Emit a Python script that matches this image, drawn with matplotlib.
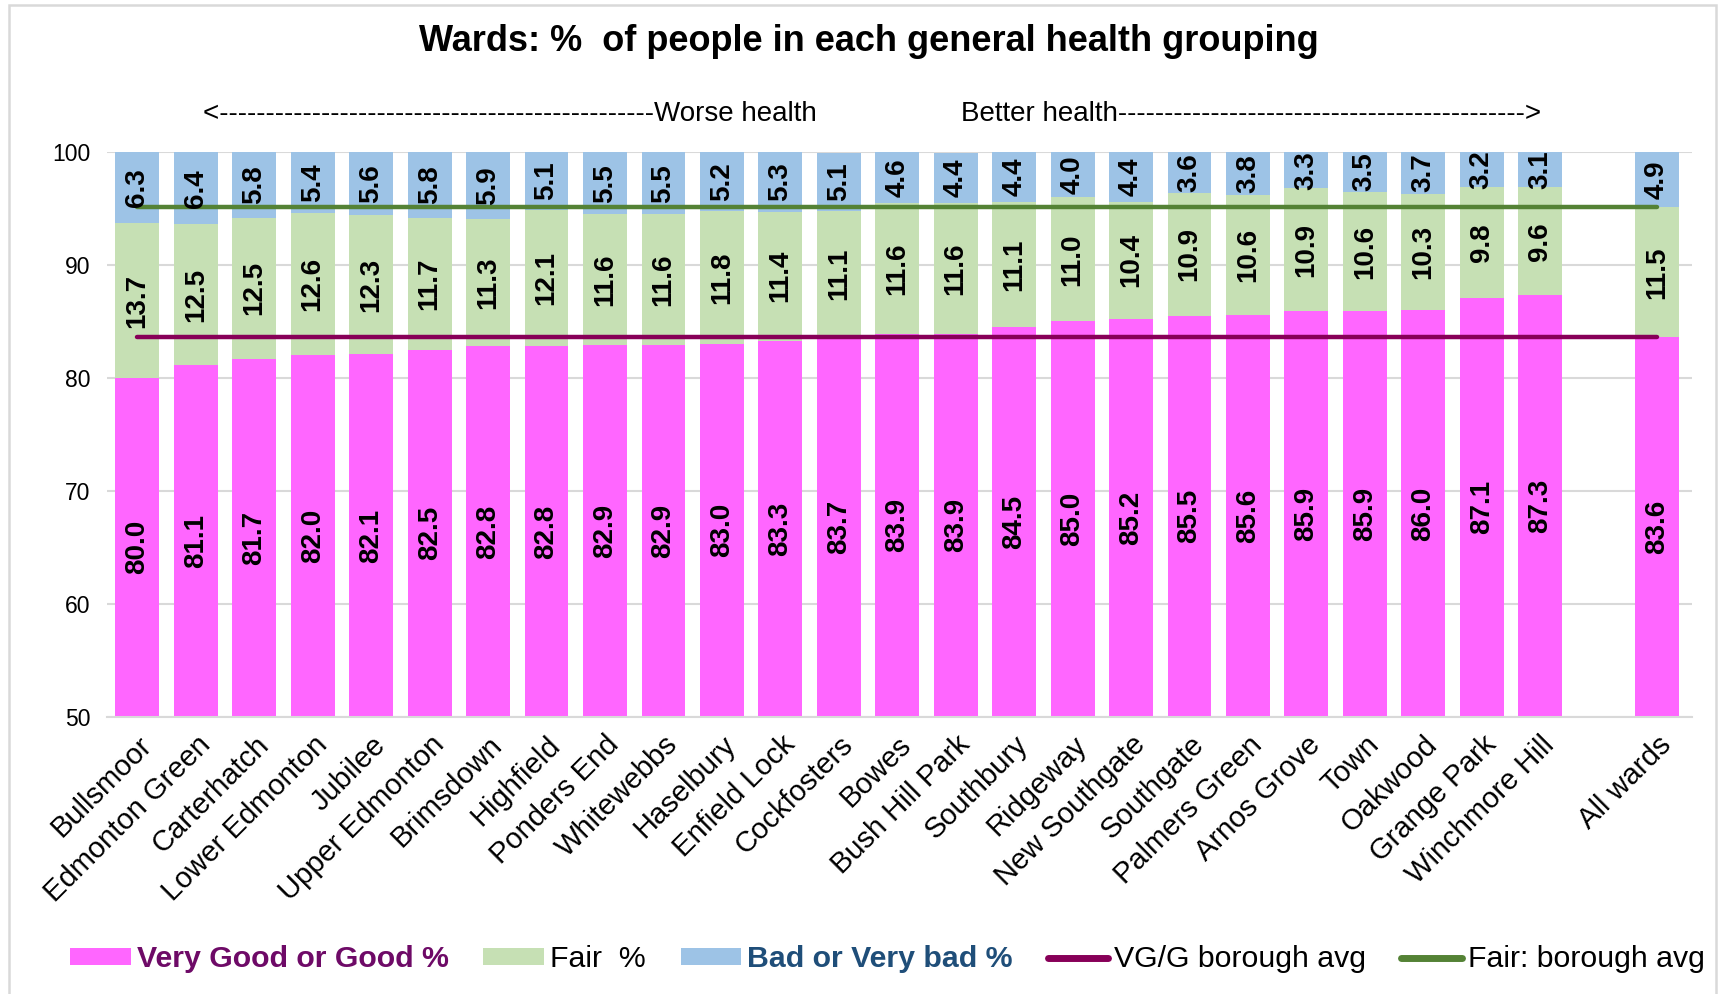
import matplotlib
matplotlib.use("Agg")
import matplotlib.pyplot as plt
from matplotlib.patches import Patch, Rectangle
from matplotlib.lines import Line2D
import numpy as np

plt.rcParams['font.family'] = ['Liberation Sans', 'DejaVu Sans']

wards = ["Bullsmoor", "Edmonton Green", "Carterhatch", "Lower Edmonton", "Jubilee",
         "Upper Edmonton", "Brimsdown", "Highfield", "Ponders End", "Whitewebbs",
         "Haselbury", "Enfield Lock", "Cockfosters", "Bowes", "Bush Hill Park",
         "Southbury", "Ridgeway", "New Southgate", "Southgate", "Palmers Green",
         "Arnos Grove", "Town", "Oakwood", "Grange Park", "Winchmore Hill"]
vg_good = [80.0, 81.1, 81.7, 82.0, 82.1, 82.5, 82.8, 82.8, 82.9, 82.9, 83.0, 83.3, 83.7,
           83.9, 83.9, 84.5, 85.0, 85.2, 85.5, 85.6, 85.9, 85.9, 86.0, 87.1, 87.3]
fair = [13.7, 12.5, 12.5, 12.6, 12.3, 11.7, 11.3, 12.1, 11.6, 11.6, 11.8, 11.4, 11.1,
        11.6, 11.6, 11.1, 11.0, 10.4, 10.9, 10.6, 10.9, 10.6, 10.3, 9.8, 9.6]
bad = [6.3, 6.4, 5.8, 5.4, 5.6, 5.8, 5.9, 5.1, 5.5, 5.5, 5.2, 5.3, 5.1,
       4.6, 4.4, 4.4, 4.0, 4.4, 3.6, 3.8, 3.3, 3.5, 3.7, 3.2, 3.1]
all_label = "All wards"
all_vg, all_fair, all_bad = 83.6, 11.5, 4.9
vg_avg = 83.6
fair_avg_top = 95.1

labels = wards + [""] + [all_label]
VG = vg_good + [np.nan] + [all_vg]
FA = fair + [np.nan] + [all_fair]
BA = bad + [np.nan] + [all_bad]
x = np.arange(len(labels))

c_vg = "#FF66FF"
c_fair = "#C6E0B4"
c_bad = "#9DC3E6"
c_vgline = "#870058"
c_fairline = "#548235"

fig = plt.figure(figsize=(17.23, 9.94), dpi=100)
ax = fig.add_axes([0.0621, 0.279, 0.920, 0.568])

ymin, ymax = 50, 100
w = 0.75
VGa = np.array(VG, dtype=float)
FAa = np.array(FA, dtype=float)
BAa = np.array(BA, dtype=float)
ax.bar(x, VGa, width=w, color=c_vg, zorder=2)
ax.bar(x, FAa, width=w, bottom=VGa, color=c_fair, zorder=2)
ax.bar(x, BAa, width=w, bottom=VGa + FAa, color=c_bad, zorder=2)

fsz = 20
for i in range(len(labels)):
    if np.isnan(VGa[i]):
        continue
    v, f, b = VGa[i], FAa[i], BAa[i]
    y1 = (ymin + v) / 2
    y2 = v + f / 2
    y3 = (v + f + min(100, v + f + b)) / 2
    for yy, val in ((y1, v), (y2, f), (y3, b)):
        ax.text(x[i], yy, f"{val:.1f}", rotation=90, ha='center', va='center',
                fontsize=fsz, fontweight='bold', color='black', zorder=4)

ax.plot([x[0], x[-1]], [vg_avg, vg_avg], color=c_vgline, lw=3.2,
        solid_capstyle='round', zorder=3)
ax.plot([x[0], x[-1]], [fair_avg_top, fair_avg_top], color=c_fairline, lw=3.2,
        solid_capstyle='round', zorder=3)

ax.set_ylim(ymin, ymax)
ax.set_xlim(-0.52, 26.6)
ax.set_yticks(np.arange(50, 101, 10))
ax.yaxis.grid(True, color='#D9D9D9', lw=1.5, zorder=0)
ax.set_axisbelow(True)
for s in ['top', 'right', 'left']:
    ax.spines[s].set_visible(False)
ax.spines['bottom'].set_color('#D9D9D9')
ax.spines['bottom'].set_linewidth(1.5)
ax.tick_params(axis='both', length=0)
ax.tick_params(axis='y', pad=12, labelsize=16.5)
ax.set_xticks(x)
ax.set_xticklabels(labels, rotation=45, ha='right', rotation_mode='anchor', fontsize=21)
ax.tick_params(axis='x', pad=10)

fig.text(0.504, 0.958, "Wards: %  of people in each general health grouping",
         ha='center', va='center', fontsize=26, fontweight='bold')
fig.text(0.118, 0.885, "<" + "-" * 47 + "Worse health", ha='left', va='center', fontsize=20)
fig.text(0.558, 0.885, "Better health" + "-" * 44 + ">", ha='left', va='center', fontsize=20)

handles = [Patch(facecolor=c_vg), Patch(facecolor=c_fair), Patch(facecolor=c_bad),
           Line2D([0], [0], color=c_vgline, lw=5, solid_capstyle='round'),
           Line2D([0], [0], color=c_fairline, lw=5, solid_capstyle='round')]
names = ["Very Good or Good %", "Fair  %", "Bad or Very bad %",
         "VG/G borough avg", "Fair: borough avg"]
leg = fig.legend(handles, names, loc='center', bbox_to_anchor=(0.515, 0.035), ncol=5,
                 frameon=False, fontsize=21.8, handlelength=2.0, handleheight=0.5,
                 handletextpad=0.2, columnspacing=1.15, borderpad=0, borderaxespad=0)
tcols = ["#6E0A67", "black", "#1F4E79", "black", "black"]
tw = ['bold', 'normal', 'bold', 'normal', 'normal']
for t, c, wt in zip(leg.get_texts(), tcols, tw):
    t.set_color(c)
    t.set_fontweight(wt)

fig.patches.append(Rectangle((0.005, -0.01), 0.991, 1.0045, transform=fig.transFigure,
                             fill=False, edgecolor='#D9D9D9', lw=1.8))

fig.savefig("out.png", dpi=100)
